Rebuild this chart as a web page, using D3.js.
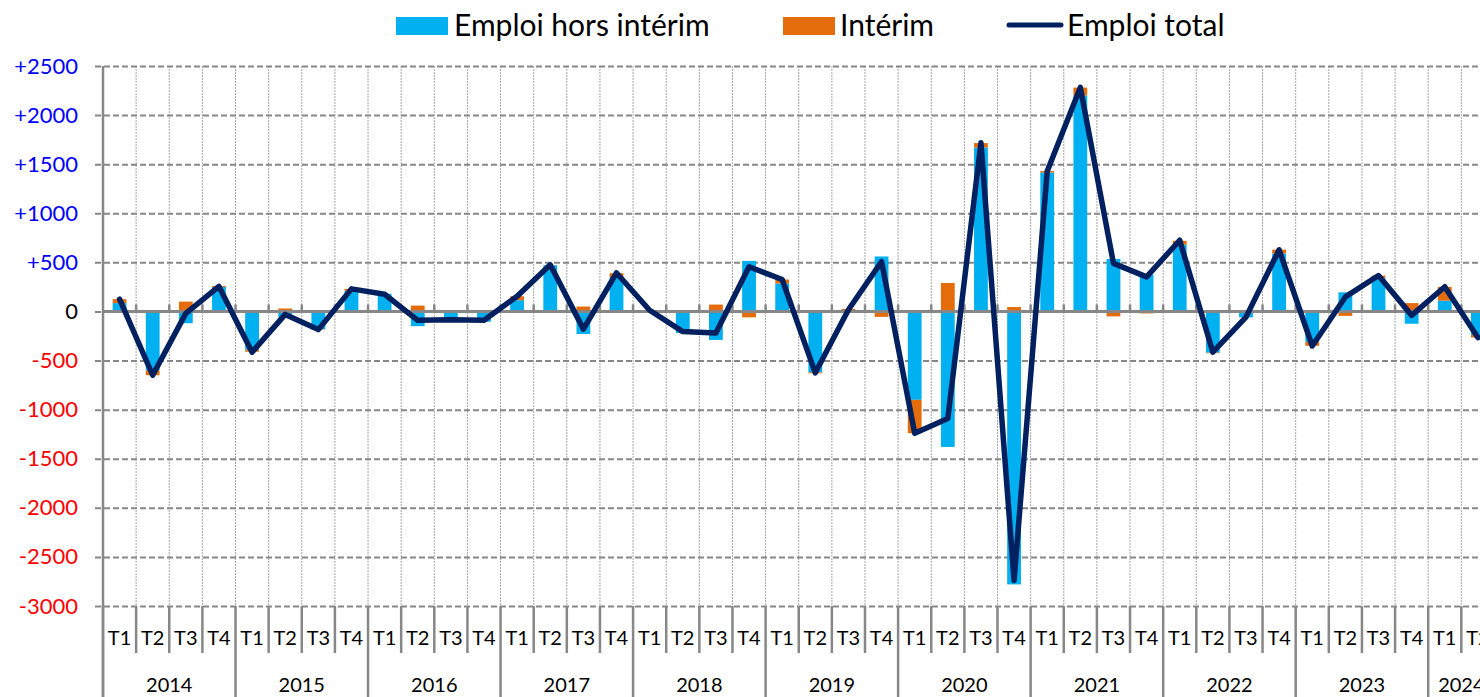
<!DOCTYPE html>
<meta charset="utf-8">
<style>
  body { margin: 0; background: #fff; }
  svg { display: block; font-family: Lato, "Open Sans", sans-serif; }
</style>
<body>
<svg width="1480" height="697"></svg>
</body>
<script src="https://cdn.jsdelivr.net/npm/d3@7"></script>
<script>
  // quarters 2014 T1 .. 2024 T2
  var years = ["2014", "2015", "2016", "2017", "2018", "2019", "2020", "2021", "2022", "2023", "2024"];
  var quarterNames = ["T1", "T2", "T3", "T4"];
  var quarters = [];
  years.forEach(function(yr) {
    quarterNames.forEach(function(q) {
      if (quarters.length < 42) quarters.push(yr + " " + q);
    });
  });

  var horsInterim = [85, -600, -120, 250, -390, -60, -180, 210,
    180, -150, -70, -105, 115, 470, -230, 350,
    10, -220, -290, 515, 285, -620, -5, 560,
    -900, -1380, 1670, -2780, 1415, 2200, 535, 375,
    680, -420, -60, 590, -310, 195, 345, -125,
    110, -240];
  var interim = [40, -50, 100, 10, -20, 30, -5, 20,
    0, 60, -15, 15, 40, 0, 50, 40,
    5, 15, 70, -60, 40, -10, 25, -55,
    -340, 290, 45, 45, 15, 80, -50, -20,
    40, -5, 0, 40, -40, -45, 20, 85,
    140, -25];
  var total = [125, -650, -20, 255, -415, -30, -185, 230,
    175, -90, -85, -90, 155, 475, -180, 392,
    12, -205, -220, 455, 325, -625, 18, 508,
    -1240, -1090, 1718, -2740, 1428, 2282, 490, 352,
    725, -414, -58, 628, -352, 148, 366, -40,
    252, -266];

  var yTicks = [2500, 2000, 1500, 1000, 500, 0, -500, -1000, -1500, -2000, -2500, -3000];

  var svg = d3.select("svg");
  var plotLeft = 103, step = 33.13;
  var plotRight = plotLeft + step * quarters.length;
  var plotTop = 66, plotBottom = 606;

  var x = d3.scaleBand().domain(quarters).range([plotLeft, plotRight]).paddingInner(0).paddingOuter(0);
  var y = d3.scaleLinear().domain([-3000, 2500]).range([plotBottom, plotTop]);
  var barW = 13.8;

  var rows = quarters.map(function(q, i) {
    return { q: q, hors: horsInterim[i], interim: interim[i] };
  });
  var series = d3.stack().keys(["hors", "interim"]).offset(d3.stackOffsetDiverging)(rows);
  var colors = { hors: "#00B0F0", interim: "#E46C0A" };

  // vertical dotted grid
  svg.append("g")
    .selectAll("line")
    .data(d3.range(1, quarters.length))
    .enter().append("line")
    .attr("x1", function(i) { return plotLeft + i * step; })
    .attr("x2", function(i) { return plotLeft + i * step; })
    .attr("y1", plotTop).attr("y2", plotBottom)
    .attr("stroke", "#a6a6a6").attr("stroke-width", 1).attr("stroke-dasharray", "2,1");

  // y axis with dashed horizontal grid
  var yAxis = d3.axisLeft(y).tickValues(yTicks)
    .tickSize(-(plotRight - plotLeft))
    .tickFormat(function(d) { return d > 0 ? "+" + d : String(d); });
  var gy = svg.append("g").attr("transform", "translate(" + plotLeft + ",0)").call(yAxis);
  gy.select(".domain").remove();
  gy.selectAll(".tick line")
    .attr("x1", -8)
    .attr("stroke", "#878787").attr("stroke-width", 2).attr("stroke-dasharray", "6,3");
  gy.selectAll(".tick text")
    .attr("x", -25)
    .attr("font-size", 22)
    .attr("font-family", "Lato, 'Open Sans', sans-serif")
    .attr("fill", function(d) { return d > 0 ? "#0000FF" : (d < 0 ? "#FF0000" : "#000"); });

  // left axis line
  svg.append("line")
    .attr("x1", plotLeft).attr("x2", plotLeft).attr("y1", plotTop).attr("y2", 697)
    .attr("stroke", "#878787").attr("stroke-width", 2.5);

  // bars
  svg.append("g")
    .selectAll("g")
    .data(series)
    .enter().append("g")
    .attr("fill", function(s) { return colors[s.key]; })
    .selectAll("rect")
    .data(function(s) { return s; })
    .enter().append("rect")
    .attr("x", function(d) { return x(d.data.q) + x.bandwidth() / 2 - barW / 2; })
    .attr("width", barW)
    .attr("y", function(d) { return y(Math.max(d[0], d[1])); })
    .attr("height", function(d) { return Math.abs(y(d[0]) - y(d[1])); });

  // zero axis line with ticks
  var y0 = y(0);
  svg.append("line")
    .attr("x1", plotLeft).attr("x2", plotRight).attr("y1", y0).attr("y2", y0)
    .attr("stroke", "#878787").attr("stroke-width", 3);
  svg.append("g")
    .selectAll("line")
    .data(d3.range(1, quarters.length))
    .enter().append("line")
    .attr("x1", function(i) { return plotLeft + i * step; })
    .attr("x2", function(i) { return plotLeft + i * step; })
    .attr("y1", y0 - 7).attr("y2", y0)
    .attr("stroke", "#878787").attr("stroke-width", 2.5);

  // total line
  var line = d3.line()
    .x(function(d, i) { return x(quarters[i]) + x.bandwidth() / 2; })
    .y(function(d) { return y(d); });
  svg.append("path")
    .datum(total)
    .attr("d", line)
    .attr("fill", "none")
    .attr("stroke", "#002060")
    .attr("stroke-width", 5.5)
    .attr("stroke-linejoin", "round")
    .attr("stroke-linecap", "round");

  // category axis: quarter and year separators + labels
  var gx = svg.append("g");
  gx.selectAll("line")
    .data(d3.range(0, quarters.length + 1))
    .enter().append("line")
    .attr("x1", function(i) { return plotLeft + i * step; })
    .attr("x2", function(i) { return plotLeft + i * step; })
    .attr("y1", plotBottom)
    .attr("y2", function(i) { return i % 4 === 0 ? 697 : 653; })
    .attr("stroke", "#878787").attr("stroke-width", 2.5);

  gx.selectAll("text.q")
    .data(quarters)
    .enter().append("text")
    .attr("class", "q")
    .attr("x", function(q) { return x(q) + x.bandwidth() / 2; })
    .attr("y", 645)
    .attr("text-anchor", "middle")
    .attr("font-size", 20)
    .attr("fill", "#000")
    .text(function(q) { return q.split(" ")[1]; });

  // year label centred over the quarters it actually has
  gx.selectAll("text.yr")
    .data(years)
    .enter().append("text")
    .attr("class", "yr")
    .attr("x", function(yr) {
      var qs = quarters.filter(function(q) { return q.indexOf(yr) === 0; });
      return (x(qs[0]) + x(qs[qs.length - 1]) + x.bandwidth()) / 2;
    })
    .attr("y", 692)
    .attr("text-anchor", "middle")
    .attr("font-size", 20)
    .attr("fill", "#000")
    .text(function(yr) { return yr; });

  // legend
  var legend = svg.append("g").attr("font-size", 30).attr("fill", "#000");
  legend.append("rect").attr("x", 396).attr("y", 17).attr("width", 52).attr("height", 18).attr("fill", colors.hors);
  legend.append("text").attr("x", 454).attr("y", 36).text("Emploi hors intérim");
  legend.append("rect").attr("x", 783).attr("y", 17).attr("width", 52).attr("height", 18).attr("fill", colors.interim);
  legend.append("text").attr("x", 840).attr("y", 36).text("Intérim");
  legend.append("line").attr("x1", 1009).attr("x2", 1061).attr("y1", 25).attr("y2", 25)
    .attr("stroke", "#002060").attr("stroke-width", 5).attr("stroke-linecap", "round");
  legend.append("text").attr("x", 1067).attr("y", 36).text("Emploi total");
</script>
